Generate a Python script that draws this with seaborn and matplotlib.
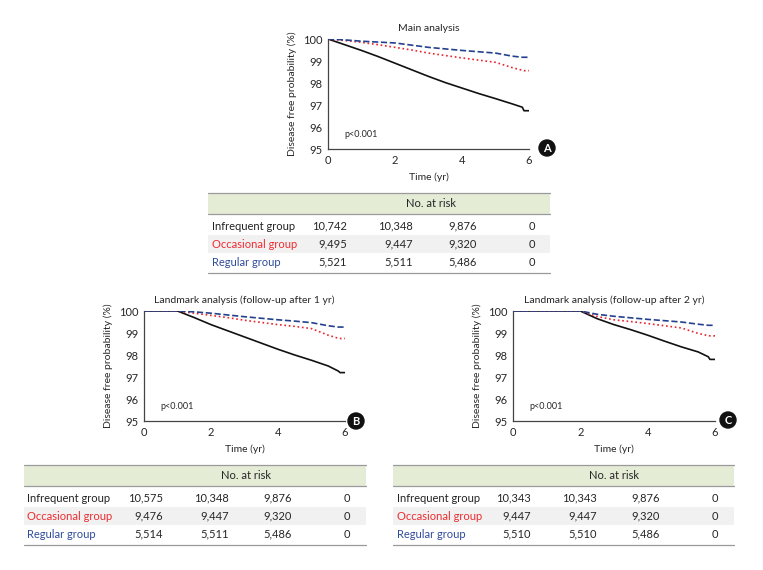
import matplotlib
matplotlib.use("Agg")
import matplotlib.pyplot as plt
import seaborn as sns
import pandas as pd
from matplotlib.patches import Rectangle, Circle

sns.set_style("white")
plt.rcParams['font.family'] = ['Lato', 'DejaVu Sans']

# survival curves, time in years, probability in %
time_pts = [0, 0.5, 1, 1.5, 2, 2.5, 3, 3.5, 4, 4.5, 5, 5.5, 5.8, 5.85, 6]

a_infrequent = [100, 99.74, 99.48, 99.2, 98.9, 98.6, 98.3, 98.02, 97.77, 97.52, 97.29, 97.05, 96.9, 96.74, 96.74]
a_occasional = [100, 99.93, 99.85, 99.74, 99.62, 99.5, 99.36, 99.25, 99.14, 99.04, 98.94, 98.7, 98.58, 98.56, 98.56]
a_regular = [100, 99.96, 99.9, 99.86, 99.82, 99.72, 99.62, 99.55, 99.48, 99.42, 99.36, 99.22, 99.17, 99.17, 99.17]

b_infrequent = [100, 100, 100, 99.7, 99.38, 99.1, 98.82, 98.54, 98.26, 98.0, 97.76, 97.5, 97.27, 97.2, 97.2]
b_occasional = [100, 100, 100, 99.9, 99.8, 99.7, 99.58, 99.48, 99.38, 99.3, 99.2, 98.9, 98.76, 98.75, 98.75]
b_regular = [100, 100, 100, 99.96, 99.9, 99.82, 99.74, 99.67, 99.6, 99.54, 99.47, 99.33, 99.27, 99.27, 99.27]

c_infrequent = [100, 100, 100, 100, 100, 99.65, 99.38, 99.15, 98.9, 98.63, 98.37, 98.14, 97.92, 97.8, 97.8]
c_occasional = [100, 100, 100, 100, 100, 99.75, 99.6, 99.52, 99.43, 99.33, 99.23, 98.98, 98.88, 98.87, 98.87]
c_regular = [100, 100, 100, 100, 100, 99.85, 99.76, 99.69, 99.62, 99.56, 99.5, 99.4, 99.35, 99.35, 99.35]

groups = ["Infrequent group", "Occasional group", "Regular group"]
group_colors = ["#111111", "#e8232b", "#24418f"]
label_colors = ["#222222", "#ee2b30", "#2f4c9c"]
line_styles = ["-", ":", "--"]

titles = ["Main analysis",
          "Landmark analysis (follow-up after 1 yr)",
          "Landmark analysis (follow-up after 2 yr)"]
panel_letters = ["A", "B", "C"]

# numbers at risk
risk_a = [["10,742", "10,348", "9,876", "0"],
          ["9,495", "9,447", "9,320", "0"],
          ["5,521", "5,511", "5,486", "0"]]
risk_b = [["10,575", "10,348", "9,876", "0"],
          ["9,476", "9,447", "9,320", "0"],
          ["5,514", "5,511", "5,486", "0"]]
risk_c = [["10,343", "10,343", "9,876", "0"],
          ["9,447", "9,447", "9,320", "0"],
          ["5,510", "5,510", "5,486", "0"]]

W, H = 763, 570
fig = plt.figure(figsize=(W / 100, H / 100), dpi=100)

def px_axes(left, top, right, bottom):
    return fig.add_axes([left / W, 1 - bottom / H, (right - left) / W, (bottom - top) / H])

def km_panel(ax, curves, title):
    df = pd.DataFrame({"time": time_pts * 3,
                       "prob": curves[0] + curves[1] + curves[2],
                       "group": [g for g in groups for _ in time_pts]})
    for g, c, ls in zip(groups, group_colors, line_styles):
        sub = df[df.group == g]
        sns.lineplot(data=sub, x="time", y="prob", color=c, linestyle=ls,
                     linewidth=1.2, ax=ax, legend=False)
    ax.set_xlim(0, 6)
    ax.set_ylim(95, 100)
    ax.set_xticks([0, 2, 4, 6])
    ax.set_yticks([95, 96, 97, 98, 99, 100])
    ax.tick_params(axis="both", labelsize=8, length=3, direction="in",
                   color="#555555", pad=4)
    for s in ["top", "right"]:
        ax.spines[s].set_visible(False)
    for s in ["left", "bottom"]:
        ax.spines[s].set_color("#444444")
        ax.spines[s].set_linewidth(0.9)
    ax.set_xlabel("Time (yr)", fontsize=7.5, labelpad=5)
    ax.set_ylabel("Disease free probability (%)", fontsize=7.5, labelpad=4)
    ax.set_title(title, fontsize=7.5, pad=6)
    ax.text(0.5, 95.65, "p<0.001", fontsize=6.5, va="center", ha="left")

ax_a = px_axes(328, 39, 529, 149)
ax_b = px_axes(144, 311, 345, 421)
ax_c = px_axes(513, 311, 715, 421)
km_panel(ax_a, [a_infrequent, a_occasional, a_regular], titles[0])
km_panel(ax_b, [b_infrequent, b_occasional, b_regular], titles[1])
km_panel(ax_c, [c_infrequent, c_occasional, c_regular], titles[2])

# overlay in pixel coordinates for tables and letters
ov = fig.add_axes([0, 0, 1, 1])
ov.set_xlim(0, W)
ov.set_ylim(H, 0)
ov.axis("off")
ov.patch.set_alpha(0)

for letter, (cx, cy) in zip(panel_letters, [(547, 148), (356, 421), (728, 420)]):
    ov.add_patch(Circle((cx, cy), 8, color="#111111", zorder=5))
    ov.text(cx, cy + 0.5, letter, color="white", fontsize=8, fontweight="bold",
            ha="center", va="center", zorder=6)

def risk_table(left, right, top, label_x, num_x, zero_x, data):
    head_h = 21
    row_h = 18
    ov.add_patch(Rectangle((left, top), right - left, head_h, color="#e4ecd6", lw=0))
    ov.plot([left, right], [top, top], color="#9a9a9a", lw=0.9)
    ov.plot([left, right], [top + head_h, top + head_h], color="#9a9a9a", lw=0.9)
    ov.text((num_x[0] + zero_x) / 2 - 9, top + head_h / 2, "No. at risk",
            fontsize=8, ha="center", va="center")
    y0 = top + head_h + 3
    ov.add_patch(Rectangle((left, y0 + row_h), right - left, row_h, color="#f1f1f1", lw=0))
    for i, (g, col) in enumerate(zip(groups, label_colors)):
        yc = y0 + row_h * i + row_h / 2
        ov.text(label_x, yc, g, color=col, fontsize=8, ha="left", va="center")
        for j in range(3):
            ov.text(num_x[j], yc, data[i][j], fontsize=8, ha="right", va="center")
        ov.text(zero_x, yc, data[i][3], fontsize=8, ha="center", va="center")
    bottom = y0 + row_h * 3 + 2
    ov.plot([left, right], [bottom, bottom], color="#9a9a9a", lw=0.9)

risk_table(208, 550, 193, 212, [347, 413, 477], 532, risk_a)
risk_table(24, 366, 465, 27, [163, 229, 292], 347, risk_b)
risk_table(393, 734, 465, 397, [531, 597, 660], 715, risk_c)

fig.savefig("out.png", dpi=100)
